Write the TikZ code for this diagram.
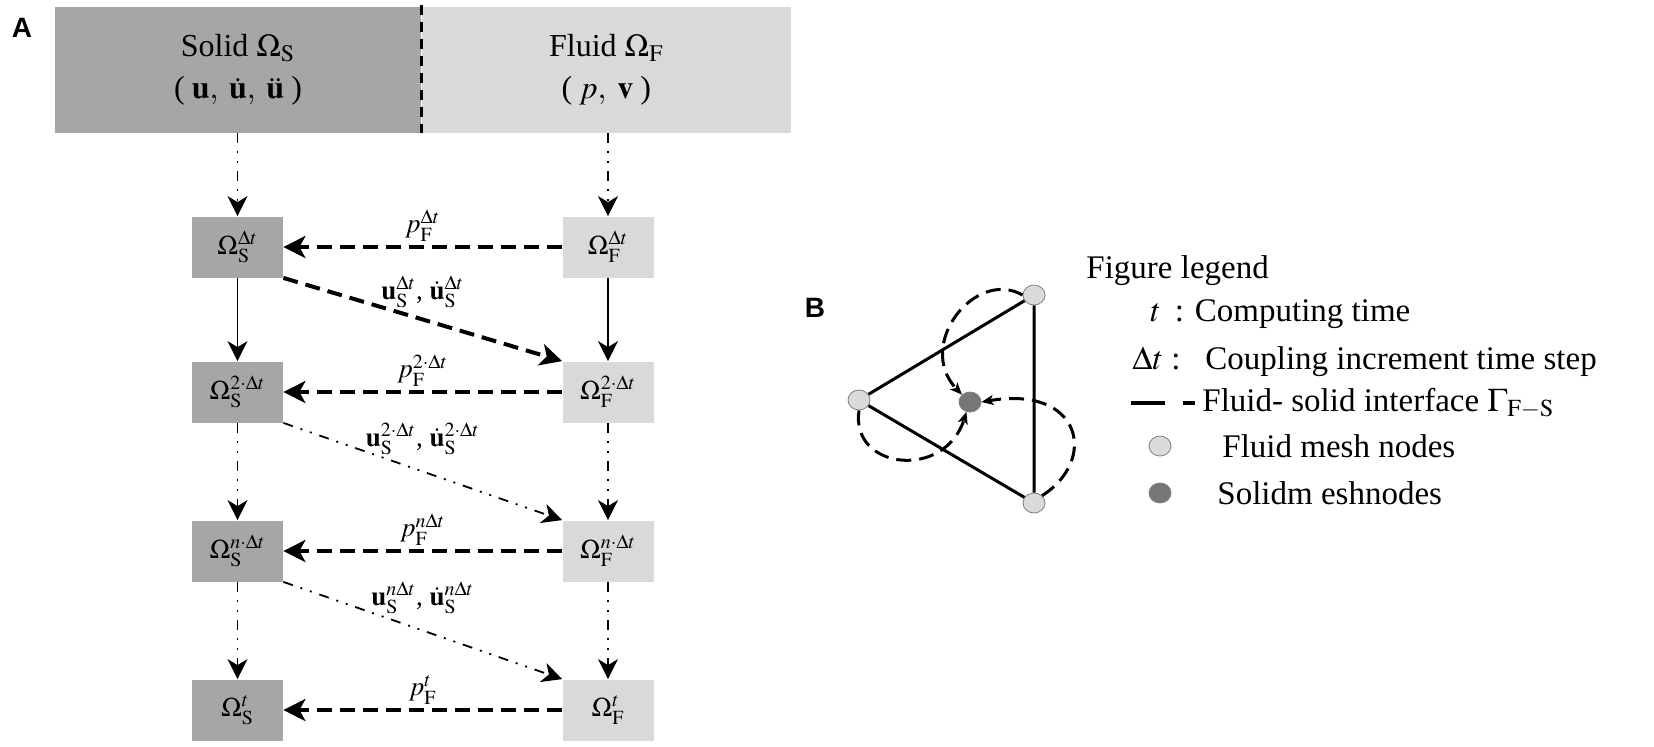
\documentclass[tikz,border=0pt]{standalone}
\usepackage{mathptmx}
\usepackage{fontspec}
\setmainfont{Liberation Serif}
\newfontfamily\panelfont{Liberation Sans}
\usetikzlibrary{arrows.meta,shapes.geometric,positioning}

\definecolor{solidgray}{RGB}{166,166,166}
\definecolor{fluidgray}{RGB}{217,217,217}
\definecolor{meshdark}{RGB}{118,118,118}
\definecolor{meshlight}{RGB}{218,218,218}

\tikzset{
  solidblk/.style={fill=solidgray, minimum width=45.5pt, minimum height=30.5pt, inner sep=0pt, font=\fontsize{13.5}{16}\selectfont},
  fluidblk/.style={solidblk, fill=fluidgray},
  coupl/.style={line width=2pt, dash pattern=on 7.5pt off 4pt, -{Stealth[length=11pt,width=11pt,inset=3pt]}},
  ddot/.style={line width=0.9pt, dash pattern=on 5pt off 4pt on 1pt off 4pt on 1pt off 4pt, -{Stealth[length=10pt,width=10pt,inset=3pt]}},
  plainarr/.style={line width=0.9pt, -{Stealth[length=10pt,width=10pt,inset=3pt]}},
  lab/.style={font=\fontsize{13.5}{16}\selectfont, inner sep=0pt},
  mesh/.style={ellipse, draw=gray, line width=0.4pt, fill=meshlight, minimum width=11pt, minimum height=10pt, inner sep=0pt},
  iface/.style={line width=1.5pt, dash pattern=on 7.5pt off 4pt, -{Stealth[length=6pt,width=5pt,inset=1.5pt]}},
  legtext/.style={anchor=west, inner sep=0pt, font=\fontsize{16.5}{20}\selectfont},
}

\begin{document}
\begin{tikzpicture}[x=0.5pt, y=-0.5pt]
\useasboundingbox (0,0) rectangle (1654,746);

% panel A
\node[font=\panelfont\bfseries\fontsize{14}{16}\selectfont] (pa) at (22,28) {A};
\node[fill=solidgray, minimum width=183pt, minimum height=63pt, inner sep=0pt, align=center,
      font=\fontsize{16}{21}\selectfont] (solid) at (238,70)
      {Solid $\Omega_{\mathrm{S}}$\\($\;\mathbf{u},\;\dot{\mathbf{u}},\;\ddot{\mathbf{u}}\;$)};
\node[fill=fluidgray, minimum width=184.5pt, minimum height=63pt, inner sep=0pt, align=center,
      font=\fontsize{16}{21}\selectfont, anchor=west] (fluid) at (solid.east)
      {Fluid $\Omega_{\mathrm{F}}$\\($\;p,\;\mathbf{v}\;$)};
\draw[line width=1.2pt, dash pattern=on 5pt off 3.5pt] ([yshift=1pt]solid.north east) -- (solid.south east);

\node[solidblk] (s1) at (237.5,247) {$\Omega_{\mathrm{S}}^{\Delta t}$};
\node[solidblk] (s2) at (237.5,392) {$\Omega_{\mathrm{S}}^{2\cdot\Delta t}$};
\node[solidblk] (s3) at (237.5,551) {$\Omega_{\mathrm{S}}^{n\cdot\Delta t}$};
\node[solidblk] (s4) at (237.5,710) {$\Omega_{\mathrm{S}}^{t}$};
\node[fluidblk] (f1) at (608,247) {$\Omega_{\mathrm{F}}^{\Delta t}$};
\node[fluidblk] (f2) at (608,392) {$\Omega_{\mathrm{F}}^{2\cdot\Delta t}$};
\node[fluidblk] (f3) at (608,551) {$\Omega_{\mathrm{F}}^{n\cdot\Delta t}$};
\node[fluidblk] (f4) at (608,710) {$\Omega_{\mathrm{F}}^{t}$};

\draw[ddot] (solid.south -| s1.north) -- (s1.north);
\draw[ddot] (fluid.south -| f1.north) -- (f1.north);
\draw[plainarr] (s1) -- (s2);
\draw[plainarr] (f1) -- (f2);
\draw[ddot] (s2) -- (s3);
\draw[ddot] (f2) -- (f3);
\draw[ddot] (s3) -- (s4);
\draw[ddot] (f3) -- (f4);

\draw[coupl] (f1.west) -- node[lab, midway, above=2pt] {$p_{\mathrm{F}}^{\Delta t}$} (s1.east);
\draw[coupl] (f2.west) -- node[lab, midway, above=2pt] {$p_{\mathrm{F}}^{2\cdot\Delta t}$} (s2.east);
\draw[coupl] (f3.west) -- node[lab, midway, above=2pt] {$p_{\mathrm{F}}^{n\Delta t}$} (s3.east);
\draw[coupl] (f4.west) -- node[lab, midway, above=2pt] {$p_{\mathrm{F}}^{t}$} (s4.east);

\draw[coupl] (s1.south east) -- node[lab, midway, above=5pt] {$\mathbf{u}_{\mathrm{S}}^{\Delta t}$, $\dot{\mathbf{u}}_{\mathrm{S}}^{\Delta t}$} (f2.north west);
\draw[ddot] (s2.south east) -- node[lab, midway, above=8pt] {$\mathbf{u}_{\mathrm{S}}^{2\cdot\Delta t}$, $\dot{\mathbf{u}}_{\mathrm{S}}^{2\cdot\Delta t}$} (f3.north west);
\draw[ddot] (s3.south east) -- node[lab, midway, above=8pt] {$\mathbf{u}_{\mathrm{S}}^{n\Delta t}$, $\dot{\mathbf{u}}_{\mathrm{S}}^{n\Delta t}$} (f4.north west);

% panel B
\node[font=\panelfont\bfseries\fontsize{14}{16}\selectfont] (pb) at (815,308) {B};
\node[mesh] (ma) at (1034,295) {};
\node[mesh] (mb) at (859,400) {};
\node[mesh] (mc) at (1034,503) {};
\node[mesh, fill=meshdark] (ms) at (970,402) {};
\draw[line width=1.5pt] (ma) -- (mb) -- (mc) -- (ma);

\draw[iface] (ma.west) .. controls (975,268) and (915,345) .. (ms.north west);
\draw[iface] (mb.south) .. controls (850,470) and (945,480) .. (ms.250);
\draw[iface] (mc.north east) .. controls (1098,460) and (1082,385) .. (ms.east);

% legend
\node[legtext] (lg0) at (1086,271) {Figure legend};
\node[legtext] (lg1) at (1150,314) {$t$\, : Computing time};
\node[legtext] (lg2) at (1132,362) {$\Delta t$ :\ \ \ Coupling increment time step};
\coordinate (ld1) at (1131,403);
\coordinate (ld2) at (1195,403);
\draw[line width=2pt, dash pattern=on 17pt off 9pt on 6pt off 9pt] (ld1) -- (ld2);
\node[legtext] (lg3) at (1202,403) {Fluid- solid interface $\Gamma_{\mathrm{F-S}}$};
\node[mesh] (lgf) at (1160,446) {};
\node[legtext] (lg4) at (1222,446) {Fluid mesh nodes};
\node[mesh, fill=meshdark] (lgs) at (1160,493) {};
\node[legtext] (lg5) at (1217,493) {Solidm eshnodes};
\end{tikzpicture}
\end{document}
